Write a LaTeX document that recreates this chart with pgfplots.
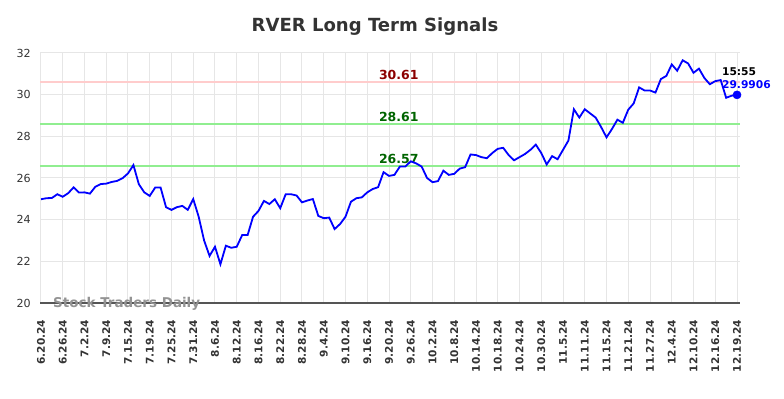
\documentclass[border=0pt]{standalone}
\usepackage{pgfplots}
\pgfplotsset{compat=1.18}
\usepackage{pgfplotstable}
\usepackage{fontspec}
\setmainfont{DejaVu Sans}
\definecolor{gridc}{HTML}{E6E6E6}
\definecolor{redlvl}{HTML}{FFCCCC}
\definecolor{greenlvl}{HTML}{90EE90}
\definecolor{darkredt}{HTML}{8B0000}
\definecolor{darkgreent}{HTML}{006400}
\definecolor{spine}{HTML}{555555}
\pgfplotstableread{
i v
0 24.98
1 25.03
2 25.04
3 25.22
4 25.10
5 25.27
6 25.55
7 25.30
8 25.31
9 25.25
10 25.58
11 25.71
12 25.73
13 25.81
14 25.86
15 25.99
16 26.22
17 26.62
18 25.70
19 25.31
20 25.14
21 25.54
22 25.54
23 24.60
24 24.47
25 24.60
26 24.66
27 24.47
28 24.99
29 24.14
30 23.00
31 22.26
32 22.70
33 21.86
34 22.75
35 22.65
36 22.70
37 23.26
38 23.26
39 24.14
40 24.42
41 24.90
42 24.75
43 24.98
44 24.55
45 25.22
46 25.22
47 25.16
48 24.83
49 24.92
50 24.99
51 24.18
52 24.07
53 24.10
54 23.55
55 23.79
56 24.14
57 24.86
58 25.03
59 25.07
60 25.31
61 25.47
62 25.56
63 26.28
64 26.10
65 26.15
66 26.55
67 26.55
68 26.80
69 26.70
70 26.55
71 26.00
72 25.80
73 25.85
74 26.35
75 26.15
76 26.20
77 26.45
78 26.52
79 27.13
80 27.10
81 27.00
82 26.95
83 27.20
84 27.40
85 27.45
86 27.10
87 26.85
88 27.00
89 27.15
90 27.35
91 27.60
92 27.20
93 26.65
94 27.05
95 26.90
96 27.35
97 27.80
98 29.30
99 28.90
100 29.30
101 29.10
102 28.90
103 28.45
104 27.95
105 28.35
106 28.80
107 28.65
108 29.28
109 29.58
110 30.35
111 30.20
112 30.20
113 30.10
114 30.75
115 30.90
116 31.45
117 31.15
118 31.65
119 31.50
120 31.05
121 31.25
122 30.80
123 30.50
124 30.65
125 30.70
126 29.85
127 29.95
128 29.99
}\prices
\begin{document}
\begin{tikzpicture}
\path[use as bounding box] (0,0) rectangle (564.48pt,286.56pt);
\node[font=\bfseries\fontsize{13}{15}\selectfont, text=black!80] at (270pt,267.1pt) {RVER Long Term Signals};
\begin{axis}[
  at={(28.8pt,68.4pt)}, anchor=south west,
  width=504pt, height=180pt, scale only axis,
  xmin=-0.18, xmax=128.55, ymin=20, ymax=32,
  ytick={20,22,...,32},
  xtick={0,4,...,128},
  xticklabels={6.20.24,6.26.24,7.2.24,7.9.24,7.15.24,7.19.24,7.25.24,7.31.24,8.6.24,8.12.24,8.16.24,8.22.24,8.28.24,9.4.24,9.10.24,9.16.24,9.20.24,9.26.24,10.2.24,10.8.24,10.14.24,10.18.24,10.24.24,10.30.24,11.5.24,11.11.24,11.15.24,11.21.24,11.27.24,12.4.24,12.10.24,12.16.24,12.19.24},
  grid=major, major grid style={gridc, line width=0.72pt},
  axis x line*=bottom, axis y line*=left,
  y axis line style={draw=none},
  x axis line style={draw=spine, line width=0.9pt, -},
  tick style={draw=none},
  /pgf/number format/assume math mode=true,
  yticklabel style={font=\fontsize{8}{9}\selectfont, inner sep=0pt, anchor=east, text=black!80},
  yticklabel shift=6.5pt,
  xticklabel style={rotate=90, anchor=east, inner sep=0pt, font=\bfseries\fontsize{7.6}{8}\selectfont, text=black!80},
  xticklabel shift=12pt,
  clip=false,
]
\addplot[redlvl, line width=1.4pt, forget plot] coordinates {(-0.18,30.61) (128.55,30.61)};
\addplot[greenlvl, line width=1.4pt, forget plot] coordinates {(-0.18,28.61) (128.55,28.61)};
\addplot[greenlvl, line width=1.4pt, forget plot] coordinates {(-0.18,26.57) (128.55,26.57)};
\node[anchor=south, inner sep=1.5pt, text=darkredt, font=\bfseries\fontsize{9}{10}\selectfont] at (axis cs:65.8,30.61) {30.61};
\node[anchor=south, inner sep=1.5pt, text=darkgreent, font=\bfseries\fontsize{9}{10}\selectfont] at (axis cs:65.8,28.61) {28.61};
\node[anchor=south, inner sep=1.5pt, text=darkgreent, font=\bfseries\fontsize{9}{10}\selectfont] at (axis cs:65.8,26.57) {26.57};
\node[anchor=west, inner sep=0pt, text=gray!85, font=\bfseries\fontsize{9.7}{11}\selectfont] at (axis cs:2.2,19.98) {Stock Traders Daily};
\addplot[blue, line width=1.3pt] table[x=i, y=v] {\prices};
\addplot[blue, only marks, mark=*, mark size=2.9pt] coordinates {(128,29.99)};
\node[anchor=west, inner sep=0pt, text=black, font=\bfseries\fontsize{7.7}{8}\selectfont] at (axis cs:125.2,31.09) {15:55};
\node[anchor=west, inner sep=0pt, text=blue, font=\bfseries\fontsize{7.7}{8}\selectfont] at (axis cs:125.2,30.47) {29.9906};
\end{axis}
\end{tikzpicture}
\end{document}
